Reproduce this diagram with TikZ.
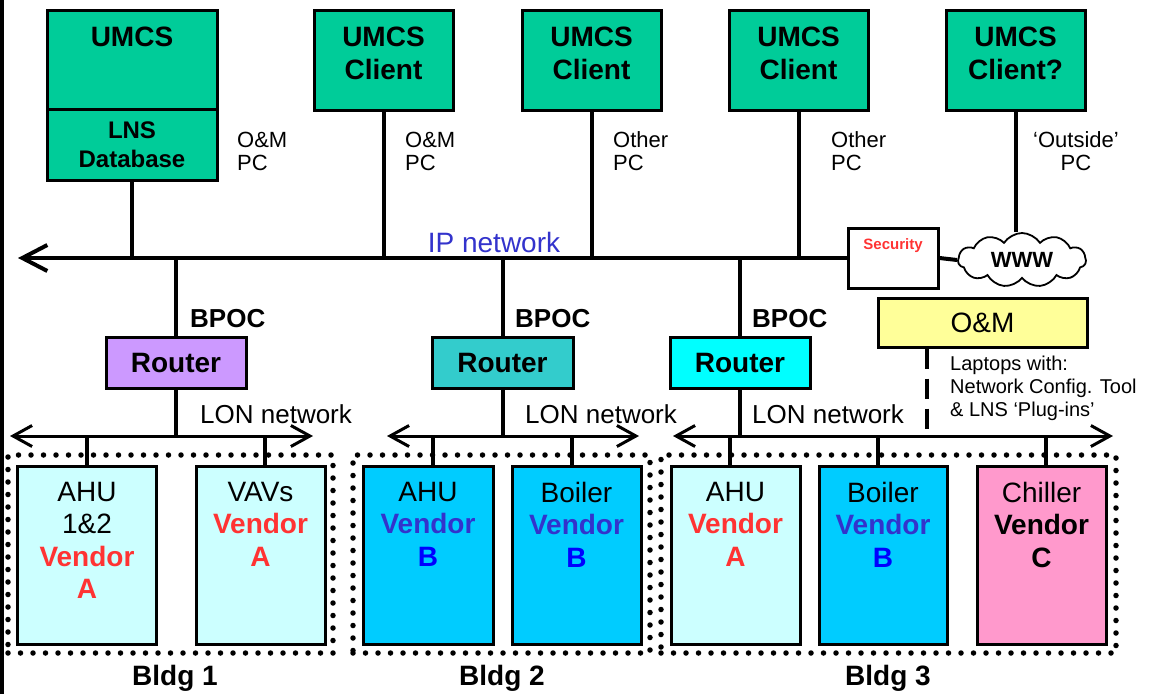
\documentclass[tikz,border=0pt]{standalone}
\usepackage{fontspec}
\setmainfont{Liberation Sans}
\usetikzlibrary{arrows.meta,shapes.symbols}
\definecolor{umcs}{HTML}{00CC99}
\definecolor{rtA}{HTML}{CC99FF}
\definecolor{rtB}{HTML}{33CCCC}
\definecolor{rtC}{HTML}{00FFFF}
\definecolor{ltcyan}{HTML}{CCFFFF}
\definecolor{dkcyan}{HTML}{00CCFF}
\definecolor{pinkbox}{HTML}{FF99CC}
\definecolor{yelbox}{HTML}{FFFF99}
\definecolor{vred}{HTML}{FF3333}
\definecolor{vblue}{HTML}{3333CC}
\definecolor{bblue}{HTML}{0000FF}
\newcommand\fsz[2]{\fontsize{#1}{#2}\selectfont}
\newcommand\VA{\textcolor{vred}{\bfseries Vendor}\\\textcolor{vred}{\bfseries A}}
\newcommand\VB{\textcolor{vblue}{\bfseries Vendor}\\\textcolor{bblue}{\bfseries B}}
\begin{document}
\begin{tikzpicture}[x=1pt,y=-1pt,
  umcsbox/.style={draw, line width=3, fill=umcs, inner sep=0, align=center, font=\fsz{28}{33}\bfseries},
  boxtext/.style={inner sep=0, align=center, font=\fsz{28}{33}\bfseries},
  routerbox/.style={draw, line width=3, inner sep=0, minimum height=51, font=\fsz{28}{33}\bfseries},
  devbox/.style={draw, line width=3, inner sep=0, minimum height=178},
  devtext/.style={inner sep=0, anchor=north, align=center, font=\fsz{28}{32.5}},
  bus/.style={line width=4},
  lonbus/.style={line width=3},
  frame/.style={draw, line width=5.5, dash pattern=on 0pt off 12.5pt, line cap=round, inner sep=0, minimum height=198},
  note/.style={inner sep=0, anchor=west, align=left, font=\fsz{22}{23}},
  bold26/.style={inner sep=0, anchor=west, font=\fsz{26}{30}\bfseries},
  lonlbl/.style={inner sep=0, anchor=west, font=\fsz{26}{30}},
  bldg/.style={inner sep=0, font=\fsz{28}{30}\bfseries},
  ipA/.style={-{Straight Barb[length=25pt,width=26pt]}},
  lonA/.style={{Straight Barb[length=19pt,width=21pt]}-{Straight Barb[length=19pt,width=21pt]}}
]
\useasboundingbox (0,0) rectangle (1154,694);
\fill[black] (0,0) rectangle (4,694);

% UMCS server
\node[umcsbox, minimum width=170, minimum height=99] (srv) at (132,59.5) {};
\node[boxtext] (srvt) at (132,37) {UMCS};
\node[umcsbox, minimum width=170, minimum height=71, font=\fsz{24}{29}\bfseries] (srvdb) at (132,144.5) {LNS\\Database};

% clients
\node[umcsbox, minimum width=139, minimum height=100] (c1) at (383.5,60) {};
\node[umcsbox, minimum width=139, minimum height=100] (c2) at (591.5,60) {};
\node[umcsbox, minimum width=139, minimum height=100] (c3) at (798.5,60) {};
\node[umcsbox, minimum width=139, minimum height=100] (c4) at (1015.5,60) {};
\node[boxtext] (c1t) at (383.5,53.5) {UMCS\\Client};
\node[boxtext] (c2t) at (591.5,53.5) {UMCS\\Client};
\node[boxtext] (c3t) at (798.5,53.5) {UMCS\\Client};
\node[boxtext] (c4t) at (1015.5,53.5) {UMCS\\Client?};

% PC labels
\node[note] (p0) at (237,151.5) {O\&M\\PC};
\node[note] (p1) at (405,151.5) {O\&M\\PC};
\node[note] (p2) at (613,151.5) {Other\\PC};
\node[note] (p3) at (831,151.5) {Other\\PC};
\node[note, anchor=center, align=center] (p4) at (1076,151.5) {‘Outside’\\PC};

% security, cloud
\node[draw, line width=3, fill=white, minimum width=90, minimum height=60, inner sep=0] (sec) at (893,258) {};
\node[inner sep=0, text=vred, font=\fsz{15}{18}\bfseries] (sect) at (893,246) {Security};
\node[cloud, draw, line width=1.8, fill=white, cloud puffs=11, cloud puff arc=115, aspect=2.3, inner sep=0, minimum width=128, minimum height=54, font=\fsz{22}{26}\bfseries] (www) at (1022,260) {WWW};

% IP bus
\coordinate (ipL) at (18,258);
\draw[bus, ipA] (sec.west) -- (ipL);
\draw[bus] (sec.east) -- (www.west);
\node[inner sep=0, text=vblue, font=\fsz{28}{32}] (ipn) at (494,242) {IP network};
\draw[bus] (srvdb.south) -- (srvdb.south |- ipL);
\draw[bus] (c1.south) -- (c1.south |- ipL);
\draw[bus] (c2.south) -- (c2.south |- ipL);
\draw[bus] (c3.south) -- (c3.south |- ipL);
\draw[bus] (c4.south) -- (c4.south |- www.north);

% routers
\node[routerbox, fill=rtA, minimum width=140] (r1) at (176,362.5) {Router};
\node[routerbox, fill=rtB, minimum width=141] (r2) at (502.5,362.5) {Router};
\node[routerbox, fill=rtC, minimum width=140] (r3) at (740,362.5) {Router};
\node[bold26] (bp1) at (190,319) {BPOC};
\node[bold26] (bp2) at (515,319) {BPOC};
\node[bold26] (bp3) at (752,319) {BPOC};
\draw[bus] (r1.north) -- (r1.north |- ipL);
\draw[bus] (r2.north) -- (r2.north |- ipL);
\draw[bus] (r3.north) -- (r3.north |- ipL);

% O&M
\node[draw, line width=3, fill=yelbox, minimum width=209, minimum height=49, inner sep=0, font=\fsz{28}{32}] (om) at (982.5,322.5) {O\&M};
\node[inner sep=0, anchor=north west, align=left, font=\fsz{20}{23}] (lap) at (950,356) {Laptops with:\\Network Config. Tool\\\& LNS ‘Plug-ins’};

% LON buses
\coordinate (l1L) at (10,436); \coordinate (l1R) at (313,436);
\coordinate (l2L) at (387,436); \coordinate (l2R) at (639,436);
\coordinate (l3L) at (673,436); \coordinate (l3R) at (1113,436);
\draw[lonbus, lonA] (l1L) -- (l1R);
\draw[lonbus, lonA] (l2L) -- (l2R);
\draw[lonbus, lonA] (l3L) -- (l3R);
\draw[bus] (r1.south) -- (r1.south |- l1L);
\draw[bus] (r2.south) -- (r2.south |- l2L);
\draw[bus] (r3.south) -- (r3.south |- l3L);
\draw[line width=4, dash pattern=on 20pt off 10pt] ([xshift=-55.5pt]om.south) -- ([xshift=-55.5pt]om.south |- l3L);
\node[lonlbl] (ln1) at (200,414) {LON network};
\node[lonlbl] (ln2) at (525,414) {LON network};
\node[lonlbl] (ln3) at (752,414) {LON network};

% building frames
\node[frame, minimum width=325] (b1) at (170.5,554) {};
\node[frame, minimum width=297] (b2) at (501.5,554) {};
\node[frame, minimum width=455] (b3) at (888.5,554) {};
\node[bldg] (bl1) at (175,678) {Bldg 1};
\node[bldg] (bl2) at (502,678) {Bldg 2};
\node[bldg] (bl3) at (888,678) {Bldg 3};

% devices
\node[devbox, fill=ltcyan, minimum width=139] (d1) at (87,555) {};
\node[devbox, fill=ltcyan, minimum width=129] (d2) at (260.5,555) {};
\node[devbox, fill=dkcyan, minimum width=130] (d3) at (428,555) {};
\node[devbox, fill=dkcyan, minimum width=129] (d4) at (576.5,555) {};
\node[devbox, fill=ltcyan, minimum width=129] (d5) at (735.5,555) {};
\node[devbox, fill=dkcyan, minimum width=128] (d6) at (883,555) {};
\node[devbox, fill=pinkbox, minimum width=129] (d7) at (1041.5,555) {};
\draw[bus] (d1.north) -- (d1.north |- l1L);
\draw[bus] ([xshift=4.5pt]d2.north) -- ([xshift=4.5pt]d2.north |- l1L);
\draw[bus] ([xshift=5pt]d3.north) -- ([xshift=5pt]d3.north |- l2L);
\draw[bus] ([xshift=-4.5pt]d4.north) -- ([xshift=-4.5pt]d4.north |- l2L);
\draw[bus] ([xshift=-5.5pt]d5.north) -- ([xshift=-5.5pt]d5.north |- l3L);
\draw[bus] ([xshift=-5pt]d6.north) -- ([xshift=-5pt]d6.north |- l3L);
\draw[bus] ([xshift=4.5pt]d7.north) -- ([xshift=4.5pt]d7.north |- l3L);
\node[devtext] (t1) at (87,482) {AHU\\1\&2\\\VA};
\node[devtext] (t2) at (260.5,482) {VAVs\\\VA};
\node[devtext] (t3) at (428,482) {AHU\\\VB};
\node[devtext] (t4) at (576.5,482) {Boiler\\\VB};
\node[devtext] (t5) at (735.5,482) {AHU\\\VA};
\node[devtext] (t6) at (883,482) {Boiler\\\VB};
\node[devtext] (t7) at (1041.5,482) {Chiller\\{\bfseries Vendor}\\{\bfseries C}};
\end{tikzpicture}
\end{document}
